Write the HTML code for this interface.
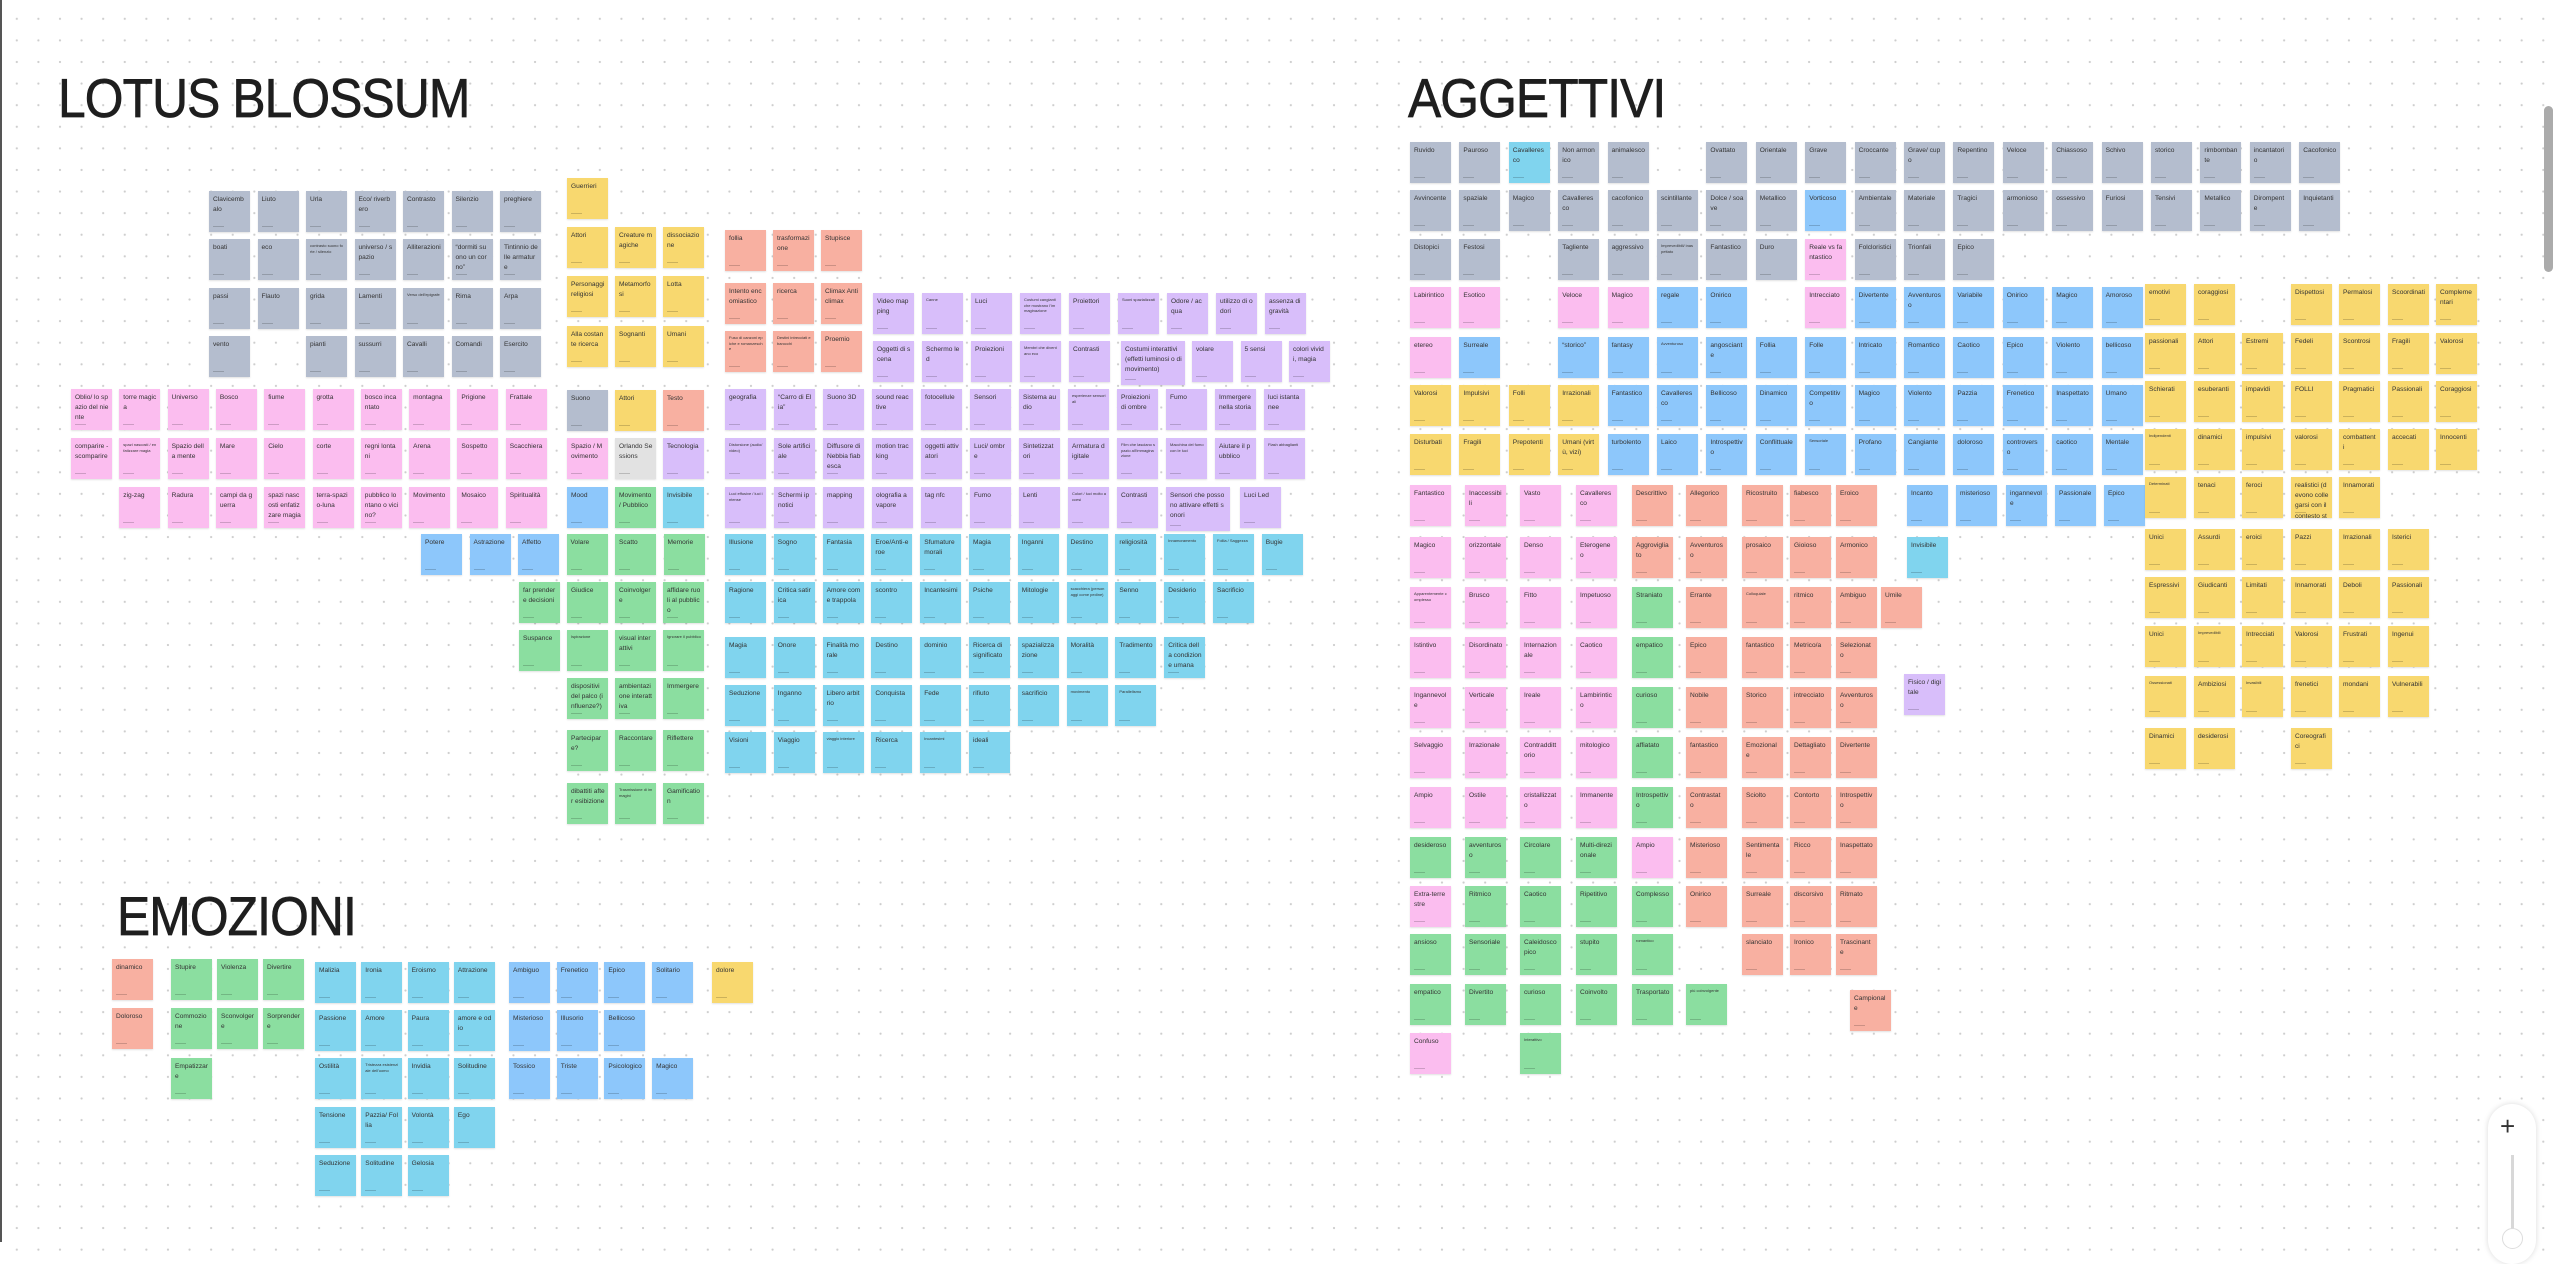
<!DOCTYPE html>
<html><head><meta charset="utf-8"><style>
html,body{margin:0;padding:0}
body{width:2559px;height:1242px;position:relative;overflow:hidden;background:#fff;
background-image:radial-gradient(circle,#cdcdcd 0.9px,transparent 1.3px);background-size:21.6px 21.6px;background-position:6px 8px;
font-family:"Liberation Sans",sans-serif}
.note{position:absolute;width:41px;height:41px;box-sizing:border-box;padding:4px 3px 0 4px;font-size:6.6px;line-height:1.55;color:#333;word-break:break-all;overflow:hidden;box-shadow:0 1px 1.5px rgba(0,0,0,.12)}
.note.sm{font-size:4px;line-height:1.4}
.note::after{content:"";position:absolute;left:4px;bottom:5px;width:11px;height:1.2px;background:rgba(0,0,0,.18)}
.title{position:absolute;font-size:55px;color:#1e1e1e;white-space:nowrap;letter-spacing:-1px;transform:scaleX(0.905);transform-origin:0 0;-webkit-text-stroke:0.7px #1e1e1e}
</style></head><body>
<div style="position:absolute;left:0;top:0;width:2px;height:1242px;background:#555"></div>
<div class="title" style="left:58px;top:66px">LOTUS BLOSSUM</div>
<div class="title" style="left:1408px;top:66px">AGGETTIVI</div>
<div class="title" style="left:117px;top:884px">EMOZIONI</div>
<div style="position:absolute;left:2544px;top:106px;width:9px;height:166px;border-radius:5px;background:#ababab"></div>
<div style="position:absolute;left:2488px;top:1104px;width:48px;height:160px;border-radius:24px;background:#fff;box-shadow:0 0 6px rgba(0,0,0,.15)">
<div style="position:absolute;left:12px;top:9px;font-size:26px;line-height:26px;color:#333">+</div>
<div style="position:absolute;left:23px;top:51px;width:3px;height:90px;background:#d8d8d8"></div>
<div style="position:absolute;left:14px;top:124px;width:19px;height:19px;border-radius:50%;background:#fff;border:1px solid #ddd"></div>
</div>
<div id="board"></div>
<script>
const COLORS={g:"#b4bdce",y:"#f8d86f",s:"#f8b0a1",p:"#fbbdef",u:"#d8befa",b:"#8dc7fb",c:"#80d4ee",n:"#8bdea0",l:"#e2e2e2"};
const lotusRows=[
[209,191,48.5,"g:Clavicembalo|g:Liuto|g:Urla|g:Eco/ riverbero|g:Contrasto|g:Silenzio|g:preghiere"],
[209,239,48.5,"g:boati|g:eco|g:~contrasto suono forte / silenzio|g:universo / spazio|g:Alliterazioni|g:“dormiti suono un corno”|g:Tintinnio delle armature"],
[209,288,48.5,"g:passi|g:Flauto|g:grida|g:Lamenti|g:~Verso dell'epigrafe|g:Rima|g:Arpa"],
[209,336,48.5,"g:vento||g:pianti|g:sussurri|g:Cavalli|g:Comandi|g:Esercito"],
[567,178,48,"y:Guerrieri"],
[567,227,48,"y:Attori|y:Creature magiche|y:dissociazione"],
[567,276,48,"y:Personaggi religiosi|y:Metamorfosi|y:Lotta"],
[567,326,48,"y:Alla costante ricerca|y:Sognanti|y:Umani"],
[725,230,48,"s:follia|s:trasformazione|s:Stupisce"],
[725,283,48,"s:Intento encomiastico|s:ricerca|s:Climax Anti climax"],
[725,331,48,"s:~Fuso di canzoni epiche e romanzesche|s:~Destini intrecciati e barocchi|s:Proemio"],
[873,293,49,"u:Video mapping|u:~Canne|u:Luci|u:~Costumi cangianti che mostrano l'immaginazione|u:Proiettori|u:~Suoni spazializzati|u:Odore / acqua|u:utilizzo di odori|u:assenza di gravità"],
[873,341,49,"u:Oggetti di scena|u:Schermo led|u:Proiezioni|u:~Membri che diventano eco|u:Contrasti"],
[1192,341,48.5,"u:volare|u:5 sensi|u:colori vividi, magia"],
[71,389,48.3,"p:Oblio/ lo spazio del niente|p:torre magica|p:Universo|p:Bosco|p:fiume|p:grotta|p:bosco incantato|p:montagna|p:Prigione|p:Frattale"],
[71,438,48.3,"p:comparire - scomparire|p:~spazi nascosti / enfatizzare magia|p:Spazio della mente|p:Mare|p:Cielo|p:corte|p:regni lontani|p:Arena|p:Sospetto|p:Scacchiera"],
[71,487,48.3,"|p:zig-zag|p:Radura|p:campi da guerra|p:spazi nascosti enfatizzare magia|p:terra-spazio-luna|p:pubblico lontano o vicino?|p:Movimento|p:Mosaico|p:Spiritualità"],
[567,390,48,"g:Suono|y:Attori|s:Testo"],
[567,438,48,"p:Spazio / Movimento|l:Orlando Sessions|u:Tecnologia"],
[567,487,48,"b:Mood|n:Movimento / Pubblico|c:Invisibile"],
[421,534,48.5,"b:Potere|b:Astrazione|b:Affetto|n:Volare|n:Scatto|n:Memorie"],
[519,582,48,"n:far prendere decisioni|n:Giudice|n:Coinvolgere|n:affidare ruoli al pubblico"],
[519,630,48,"n:Suspance|n:~Ispirazione|n:visual interattivi|n:~Ignorare il pubblico"],
[519,678,48,"|n:dispositivi del palco (influenze?)|n:ambientazione interattiva|n:Immergere"],
[519,730,48,"|n:Partecipare?|n:Raccontare|n:Riflettere"],
[519,783,48,"|n:dibattiti after esibizione|n:~Trasmissione di immagini|n:Gamification"],
[725,389,49,"u:geografia|u:“Carro di Elia”|u:Suono 3D|u:sound reactive|u:fotocellule|u:Sensori|u:Sistema audio|u:~esperienze sensoriali|u:Proiezioni di ombre|u:Fumo|u:Immergere nella storia|u:luci istantanee"],
[725,438,49,"u:~Distorsione (audio/video)|u:Sole artificiale|u:Diffusore di Nebbia fiabesca|u:motion tracking|u:oggetti attivatori|u:Luci/ ombre|u:Sintetizzatori|u:Armatura digitale|u:~Film che lasciano spazio all'immaginazione|u:~Macchina del fumo con le luci|u:Aiutare il pubblico|u:~Flash abbaglianti"],
[725,487,49,"u:~Luci effusive / luci intense|u:Schermi ipnotici|u:mapping|u:olografia a vapore|u:tag nfc|u:Fumo|u:Lenti|u:~Colori / luci molto accesi|u:Contrasti"],
[1240,487,48,"u:Luci Led"],
[725,534,48.8,"c:Illusione|c:Sogno|c:Fantasia|c:Eroe/Anti-eroe|c:Sfumature morali|c:Magia|c:Inganni|c:Destino|c:religiosità|c:~Innamoramento|c:~Follia / Saggezza|c:Bugie"],
[725,582,48.8,"c:Ragione|c:Critica satirica|c:Amore come trappola|c:scontro|c:Incantesimi|c:Psiche|c:Mitologie|c:~scacchiera (personaggi come pedine)|c:Senno|c:Desiderio|c:Sacrificio"],
[725,637,48.8,"c:Magia|c:Onore|c:Finalità morale|c:Destino|c:dominio|c:Ricerca di significato|c:spazializzazione|c:Moralità|c:Tradimento|c:Critica della condizione umana"],
[725,685,48.8,"c:Seduzione|c:Inganno|c:Libero arbitrio|c:Conquista|c:Fede|c:rifiuto|c:sacrificio|c:~movimento|c:~Parallelismo"],
[725,732,48.8,"c:Visioni|c:Viaggio|c:~viaggio interiore|c:Ricerca|c:~Incantesimi|c:ideali"]
];
const emoRows=[
[112,959,48,"s:dinamico"],[112,1008,48,"s:Doloroso"],
[171,959,46,"n:Stupire|n:Violenza|n:Divertire"],
[171,1008,46,"n:Commozione|n:Sconvolgere|n:Sorprendere"],
[171,1058,46,"n:Empatizzare"],
[315,962,46.3,"c:Malizia|c:Ironia|c:Eroismo|c:Attrazione"],
[315,1010,46.3,"c:Passione|c:Amore|c:Paura|c:amore e odio"],
[315,1058,46.3,"c:Ostilità|c:~Tristezza esistenziale dell'uomo|c:Invidia|c:Solitudine"],
[315,1107,46.3,"c:Tensione|c:Pazzia/ Follia|c:Volontà|c:Ego"],
[315,1155,46.3,"c:Seduzione|c:Solitudine|c:Gelosia"],
[509,962,47.7,"b:Ambiguo|b:Frenetico|b:Epico|b:Solitario"],
[509,1010,47.7,"b:Misterioso|b:Illusorio|b:Bellicoso"],
[509,1058,47.7,"b:Tossico|b:Triste|b:Psicologico|b:Magico"],
[712,962,48,"y:dolore"]
];
const aggTopRows=[
"g:Ruvido|g:Pauroso|c:Cavalleresco|g:Non armonico|g:animalesco||g:Ovattato|g:Orientale|g:Grave|g:Croccante|g:Grave/ cupo|g:Repentino|g:Veloce|g:Chiassoso|g:Schivo|g:storico|g:rimbombante|g:incantatorio|g:Cacofonico",
"g:Avvincente|g:spaziale|g:Magico|g:Cavalleresco|g:cacofonico|g:scintillante|g:Dolce / soave|g:Metallico|b:Vorticoso|g:Ambientale|g:Materiale|g:Tragici|g:armonioso|g:ossessivo|g:Furiosi|g:Tensivi|g:Metallico|g:Dirompente|g:Inquietanti",
"g:Distopici|g:Festosi||g:Tagliente|g:aggressivo|g:~Imprevedibili/ inaspettato|g:Fantastico|g:Duro|p:Reale vs fantastico|g:Folcloristici|g:Trionfali|g:Epico",
"p:Labirintico|p:Esotico||p:Veloce|p:Magico|b:regale|b:Onirico||p:Intrecciato|b:Divertente|b:Avventuroso|b:Variabile|b:Onirico|b:Magico|b:Amoroso",
"p:etereo|b:Surreale||b:“storico”|b:fantasy|b:~Avventuroso|b:angosciante|b:Follia|b:Folle|b:Intricato|b:Romantico|b:Caotico|b:Epico|b:Violento|b:bellicoso",
"y:Valorosi|y:Impulsivi|y:Folli|y:Irrazionali|b:Fantastico|b:Cavalleresco|b:Bellicoso|b:Dinamico|b:Competitivo|b:Magico|b:Violento|b:Pazzia|b:Frenetico|b:Inaspettato|b:Umano",
"y:Disturbati|y:Fragili|y:Prepotenti|y:Umani (virtù, vizi)|b:turbolento|b:Laico|b:Introspettivo|b:Conflittuale|b:~Sensoriale|b:Profano|b:Cangiante|b:doloroso|b:controverso|b:caotico|b:Mentale"
];
const aggTopY=[142,190,239,287,337,385,434];
const aggLowCols=[1410,1465,1520,1576,1632,1686,1742,1790,1836,1907,1956,2006,2055,2104];
const aggLowY=[485,537,587,637,687,737,787,837,886,934,984,1033];
const aggLowRows=[
"p:Fantastico|p:Inaccessibili|p:Vasto|p:Cavalleresco|s:Descrittivo|s:Allegorico|s:Ricostruito|s:fiabesco|s:Eroico|b:Incanto|b:misterioso|b:ingannevole|b:Passionale|b:Epico",
"p:Magico|p:orizzontale|p:Denso|p:Eterogeneo|s:Aggrovigliato|s:Avventuroso|s:prosaico|s:Gioioso|s:Armonico|c:Invisibile",
"p:~Apparentemente complesso|p:Brusco|p:Fitto|p:Impetuoso|n:Straniato|s:Errante|s:~Colloquiale|s:ritmico|s:Ambiguo",
"p:Istintivo|p:Disordinato|p:Internazionale|p:Caotico|n:empatico|s:Epico|s:fantastico|s:Metrico/a|s:Selezionato",
"p:Ingannevole|p:Verticale|p:Ireale|p:Lambirintico|n:curioso|s:Nobile|s:Storico|s:intrecciato|s:Avventuroso",
"p:Selvaggio|p:Irrazionale|p:Contraddittorio|p:mitologico|n:affiatato|s:fantastico|s:Emozionale|s:Dettagliato|s:Divertente",
"p:Ampio|p:Ostile|p:cristallizzato|p:Immanente|n:Introspettivo|s:Contrastato|s:Sciolto|s:Contorto|s:Introspettivo",
"n:desideroso|n:avventuroso|n:Circolare|n:Multi-direzionale|p:Ampio|s:Misterioso|s:Sentimentale|s:Ricco|s:Inaspettato",
"p:Extra-terrestre|n:Ritmico|n:Caotico|n:Ripetitivo|n:Complesso|s:Onirico|s:Surreale|s:discorsivo|s:Ritmato",
"n:ansioso|n:Sensoriale|n:Caleidoscopico|n:stupito|n:~romantico||s:slanciato|s:Ironico|s:Trascinante",
"n:empatico|n:Divertito|n:curioso|n:Coinvolto|n:Trasportato|n:~più coinvolgente",
"p:Confuso||n:~Interattivo"
];
const yelCols=[2145,2194,2242,2291,2339,2388,2436];
const yelY=[284,333,381,429,477,529,577,626,676,728];
const yelRows=[
"y:emotivi|y:coraggiosi||y:Dispettosi|y:Permalosi|y:Scoordinati|y:Complementari",
"y:passionali|y:Attori|y:Estremi|y:Fedeli|y:Scontrosi|y:Fragili|y:Valorosi",
"y:Schierati|y:esuberanti|y:impavidi|y:FOLLI|y:Pragmatici|y:Passionali|y:Coraggiosi",
"y:~Indipendenti|y:dinamici|y:impulsivi|y:valorosi|y:combattenti|y:accecati|y:Innocenti",
"y:~Determinati|y:tenaci|y:feroci|y:realistici (devono collegarsi con il contesto storico reale)|y:Innamorati",
"y:Unici|y:Assurdi|y:eroici|y:Pazzi|y:Irrazionali|y:Isterici",
"y:Espressivi|y:Giudicanti|y:Limitati|y:Innamorati|y:Deboli|y:Passionali",
"y:Unici|y:~Imprevedibili|y:Intrecciati|y:Valorosi|y:Frustrati|y:Ingenui",
"y:~Ossessionati|y:Ambiziosi|y:~Invasibili|y:frenetici|y:mondani|y:Vulnerabili",
"y:Dinamici|y:desiderosi||y:Coreografici"
];
const singles=[
[1121,341,64,44,"u:Costumi interattivi (effetti luminosi o di movimento)"],
[1166,487,64,44,"u:Sensori che possono attivare effetti sonori"],
[1881,587,41,41,"s:Umile"],
[1904,674,41,41,"u:Fisico / digitale"],
[1850,990,41,41,"s:Campionale"]
];
const board=document.getElementById('board');
function addNote(x,y,w,h,entry){
  if(!entry)return;
  const i=entry.indexOf(':');const c=entry.slice(0,i);let t=entry.slice(i+1);
  const d=document.createElement('div');
  d.className='note';
  if(t[0]==='~'){t=t.slice(1);d.classList.add('sm');}
  d.style.left=x+'px';d.style.top=y+'px';d.style.width=w+'px';d.style.height=h+'px';
  d.style.background=COLORS[c];
  d.textContent=t;
  
  
  board.appendChild(d);
}
function addRows(rows){rows.forEach(r=>{r[3].split('|').forEach((e,i)=>addNote(r[0]+i*r[2],r[1],41,41,e));});}
addRows(lotusRows);addRows(emoRows);
aggTopRows.forEach((s,r)=>s.split('|').forEach((e,k)=>addNote(1410+k*49.4,aggTopY[r],41,41,e)));
aggLowRows.forEach((s,r)=>s.split('|').forEach((e,k)=>addNote(aggLowCols[k],aggLowY[r],41,41,e)));
yelRows.forEach((s,r)=>s.split('|').forEach((e,k)=>addNote(yelCols[k],yelY[r],41,41,e)));
singles.forEach(s=>addNote(s[0],s[1],s[2],s[3],s[4]));
</script>
</body></html>
